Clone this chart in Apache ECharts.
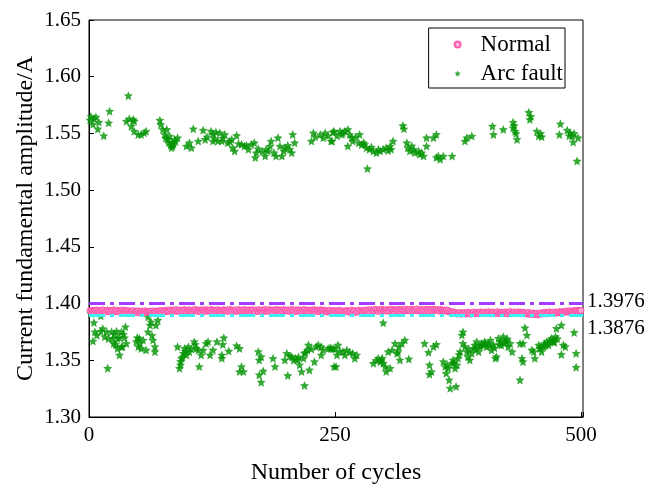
<!DOCTYPE html>
<html><head><meta charset="utf-8">
<script src="https://cdn.jsdelivr.net/npm/echarts@6/dist/echarts.min.js"></script>
<style>html,body{margin:0;padding:0;background:#fff}#c{width:661px;height:490px}</style>
</head><body><div id="c"></div>
<script>
const xTicks = [0, 250, 500];
const seriesNames = ['Normal', 'Arc fault'];
const thresholdValues = [1.3976, 1.3876];
const thresholdLabels = ['1.3976', '1.3876'];

// Normal: one value per cycle, cycles 1..500
const normalValues = [
1.3938,1.3929,1.3942,1.3933,1.3926,1.3940,1.3935,1.3944,1.3931,1.3937,1.3928,1.3941,1.3934,1.3946,1.3930,1.3936,1.3925,1.3939,1.3943,1.3932,
1.3936,1.3927,1.3940,1.3934,1.3945,1.3929,1.3938,1.3931,1.3942,1.3926,1.3935,1.3939,1.3930,1.3944,1.3933,1.3928,1.3941,1.3936,1.3924,1.3937,
1.3931,1.3922,1.3935,1.3927,1.3938,1.3920,1.3929,1.3933,1.3924,1.3936,1.3918,1.3930,1.3926,1.3934,1.3921,1.3928,1.3937,1.3923,1.3931,1.3925,
1.3929,1.3934,1.3920,1.3927,1.3936,1.3923,1.3931,1.3918,1.3933,1.3926,1.3938,1.3929,1.3935,1.3924,1.3940,1.3931,1.3927,1.3942,1.3934,1.3930,
1.3939,1.3932,1.3945,1.3936,1.3929,1.3943,1.3938,1.3947,1.3931,1.3940,1.3934,1.3944,1.3928,1.3937,1.3942,1.3933,1.3948,1.3936,1.3930,1.3941,
1.3935,1.3946,1.3932,1.3939,1.3927,1.3943,1.3937,1.3949,1.3934,1.3940,1.3929,1.3944,1.3938,1.3931,1.3945,1.3936,1.3942,1.3930,1.3947,1.3939,
1.3933,1.3941,1.3936,1.3948,1.3930,1.3944,1.3938,1.3927,1.3942,1.3935,1.3946,1.3932,1.3940,1.3937,1.3929,1.3945,1.3934,1.3943,1.3938,1.3931,
1.3944,1.3936,1.3949,1.3933,1.3940,1.3928,1.3942,1.3937,1.3945,1.3931,1.3939,1.3947,1.3934,1.3941,1.3930,1.3943,1.3936,1.3948,1.3932,1.3940,
1.3937,1.3945,1.3929,1.3942,1.3935,1.3947,1.3933,1.3939,1.3926,1.3944,1.3938,1.3931,1.3946,1.3936,1.3941,1.3928,1.3943,1.3935,1.3949,1.3932,
1.3940,1.3934,1.3946,1.3930,1.3943,1.3937,1.3928,1.3945,1.3939,1.3933,1.3948,1.3936,1.3942,1.3929,1.3944,1.3938,1.3931,1.3947,1.3935,1.3941,
1.3936,1.3944,1.3930,1.3942,1.3937,1.3949,1.3933,1.3940,1.3927,1.3945,1.3938,1.3932,1.3946,1.3935,1.3941,1.3929,1.3943,1.3936,1.3948,1.3934,
1.3939,1.3931,1.3944,1.3937,1.3928,1.3942,1.3935,1.3947,1.3933,1.3940,1.3926,1.3943,1.3938,1.3930,1.3945,1.3936,1.3941,1.3929,1.3944,1.3934,
1.3932,1.3925,1.3938,1.3929,1.3941,1.3923,1.3934,1.3927,1.3939,1.3931,1.3920,1.3936,1.3928,1.3942,1.3926,1.3933,1.3937,1.3922,1.3930,1.3935,
1.3927,1.3940,1.3931,1.3924,1.3936,1.3929,1.3943,1.3926,1.3933,1.3938,1.3921,1.3935,1.3930,1.3942,1.3925,1.3937,1.3932,1.3928,1.3941,1.3934,
1.3936,1.3943,1.3931,1.3945,1.3938,1.3929,1.3947,1.3935,1.3941,1.3933,1.3949,1.3937,1.3944,1.3930,1.3946,1.3939,1.3934,1.3950,1.3936,1.3942,
1.3938,1.3945,1.3932,1.3947,1.3940,1.3934,1.3951,1.3937,1.3943,1.3930,1.3946,1.3939,1.3944,1.3935,1.3949,1.3941,1.3933,1.3948,1.3938,1.3945,
1.3940,1.3952,1.3936,1.3944,1.3939,1.3947,1.3933,1.3950,1.3942,1.3937,1.3946,1.3940,1.3953,1.3935,1.3944,1.3948,1.3938,1.3945,1.3941,1.3936,
1.3947,1.3939,1.3951,1.3943,1.3936,1.3949,1.3941,1.3946,1.3934,1.3950,1.3942,1.3938,1.3947,1.3940,1.3944,1.3932,1.3948,1.3937,1.3943,1.3939,
1.3941,1.3935,1.3944,1.3930,1.3938,1.3926,1.3933,1.3921,1.3929,1.3917,1.3924,1.3912,1.3920,1.3908,1.3916,1.3911,1.3922,1.3906,1.3914,1.3919,
1.3910,1.3921,1.3907,1.3916,1.3924,1.3912,1.3918,1.3905,1.3920,1.3914,1.3926,1.3909,1.3917,1.3922,1.3911,1.3919,1.3913,1.3927,1.3915,1.3920,
1.3916,1.3925,1.3910,1.3922,1.3914,1.3928,1.3919,1.3908,1.3923,1.3917,1.3926,1.3912,1.3920,1.3915,1.3929,1.3911,1.3921,1.3918,1.3924,1.3913,
1.3922,1.3914,1.3927,1.3916,1.3909,1.3924,1.3919,1.3930,1.3912,1.3921,1.3917,1.3926,1.3910,1.3923,1.3915,1.3928,1.3918,1.3911,1.3925,1.3920,
1.3914,1.3923,1.3910,1.3919,1.3907,1.3916,1.3921,1.3904,1.3913,1.3909,1.3918,1.3902,1.3911,1.3906,1.3915,1.3899,1.3910,1.3917,1.3905,1.3914,
1.3919,1.3911,1.3924,1.3915,1.3908,1.3922,1.3916,1.3927,1.3912,1.3920,1.3918,1.3925,1.3913,1.3921,1.3926,1.3917,1.3923,1.3929,1.3919,1.3924,
1.3927,1.3921,1.3932,1.3925,1.3930,1.3935,1.3923,1.3929,1.3937,1.3926,1.3933,1.3928,1.3939,1.3931,1.3936,1.3941,1.3930,1.3938,1.3934,1.3940
];

// Arc fault: [cycle, amplitude], upper cluster
const arcFaultHigh = [
[1,1.562],[2,1.565],[4,1.558],[5,1.563],[7,1.5645],[10,1.560],[9,1.554],[15,1.548],[21,1.5696],[20,1.5594],
[40,1.5833],[38,1.5608],[41,1.5629],[45,1.5623],[46,1.5608],[43,1.5564],[46,1.5520],[50,1.5491],[53,1.5491],[56,1.5506],[58,1.5520],
[72,1.5617],[73,1.5579],[75,1.5535],[77,1.5491],[79,1.5535],[82,1.5477],[80,1.5447],[84,1.5418],[85,1.5389],[87,1.5447],[90,1.5462],[84,1.5374],
[78,1.5460],[81,1.5420],[83,1.5395],[86,1.5410],[88,1.5430],
[99,1.5389],[102,1.5418],[104,1.5374],[106,1.5541],[111,1.5433],[116,1.5529],[118,1.5447],[124,1.5520],[126,1.5491],[129,1.5512],[133,1.5506],
[131,1.5433],[126,1.5433],[135,1.5433],[138,1.5491],[141,1.5418],[145,1.5447],[146,1.5374],[150,1.5482],[148,1.5345],[155,1.5404],[158,1.5389],
[162,1.5360],[165,1.5404],[168,1.5418],[170,1.5330],[169,1.5287],[179,1.5301],[180,1.5360],[184,1.5389],[185,1.5433],[192,1.5462],[194,1.5389],
[196,1.5301],[190,1.5301],[199,1.5374],[204,1.5360],[206,1.5330],[207,1.5491],[209,1.5418],[228,1.5506],[226,1.5433],[240,1.5506],[238,1.5462],
[246,1.5433],[248,1.5512],
[120,1.5470],[128,1.5455],[136,1.5460],[143,1.5430],[152,1.5410],[160,1.5395],[172,1.5365],[176,1.5340],[182,1.5345],[188,1.5330],[198,1.5345],
[202,1.5395],[230,1.5470],[235,1.5490],[243,1.5480],
[247,1.5433],[249,1.5520],[255,1.5520],[257,1.5491],[258,1.5506],[263,1.5535],[265,1.5491],[267,1.5462],[268,1.5433],[263,1.5389],[275,1.5491],
[274,1.5418],[279,1.5418],[280,1.5404],[282,1.5374],[285,1.5360],[289,1.5345],[292,1.5330],[296,1.5345],[299,1.5360],[302,1.5374],[306,1.5389],
[307,1.5360],[309,1.5433],[319,1.5570],[320,1.5541],[323,1.5418],[324,1.5374],[326,1.5345],[330,1.5360],[331,1.5330],[335,1.5345],[336,1.5316],
[340,1.5301],[343,1.5389],[343,1.5462],[350,1.5462],[353,1.5491],[353,1.5287],[357,1.5272],[360,1.5301],[369,1.5301],[382,1.5433],[384,1.5462],
[389,1.5477],[410,1.5564],[411,1.5491],[421,1.5535],[431,1.5599],[431,1.5550],[433,1.5520],[435,1.5447],[447,1.5687],[448,1.5623],[455,1.5520],
[457,1.5477],[460,1.5471],[479,1.5585],[478,1.5491],[486,1.5529],[489,1.5506],[491,1.5477],[492,1.5424],[497,1.5462],[496,1.5257],[283,1.5190],
[252,1.5480],[260,1.5520],[271,1.5470],[277,1.5400],[287,1.5380],[294,1.5360],[304,1.5350],[328,1.5390],[338,1.5330],[355,1.5300],[434,1.5500],
[432,1.5570],[449,1.5650],[459,1.5500],[488,1.5480],[493,1.5500]
];

// Arc fault: lower cluster
const arcFaultLow = [
[2,1.3912],[5,1.3833],[6,1.3751],[4,1.3670],[12,1.3892],[12,1.3757],[16,1.3708],[18,1.3751],[19,1.3430],[23,1.3751],[24,1.3693],[25,1.3649],
[28,1.3757],[29,1.3693],[29,1.3605],[31,1.3547],[33,1.3751],[34,1.3620],[36,1.3699],[37,1.3795],[38,1.3649],[48,1.3664],[50,1.3620],[51,1.3693],
[55,1.3678],[53,1.3605],[58,1.3591],[60,1.3883],[62,1.3810],[60,1.3751],[63,1.3839],[65,1.3678],[67,1.3620],[67,1.3576],[68,1.3810],[70,1.3854],
[8,1.3720],[14,1.3780],[20,1.3690],[26,1.3730],[31,1.3700],[27,1.3640],[33,1.3620],[35,1.3730],[52,1.3650],[49,1.3700],[64,1.3720],
[90,1.3620],[92,1.3430],[94,1.3518],[96,1.3561],[97,1.3605],[99,1.3547],[101,1.3620],[102,1.3576],[107,1.3664],[109,1.3605],[111,1.3591],
[112,1.3445],[114,1.3547],[119,1.3649],[121,1.3664],[123,1.3547],[126,1.3591],[130,1.3664],[135,1.3547],[135,1.3518],[137,1.3699],[136,1.3640],
[142,1.3582],[150,1.3629],[153,1.3605],[155,1.3445],[153,1.3401],[157,1.3401],
[93,1.3490],[95,1.3530],[98,1.3580],[104,1.3600],[108,1.3640],[116,1.3590],[93,1.3460],
[172,1.3576],[173,1.3503],[175,1.3532],[177,1.3406],[173,1.3371],[175,1.3307],[187,1.3518],[189,1.3445],[201,1.3561],[199,1.3503],[202,1.3366],
[206,1.3532],[210,1.3518],[212,1.3503],[214,1.3459],[216,1.3401],[218,1.3518],[219,1.3561],[222,1.3591],[223,1.3635],[224,1.3415],[219,1.3278],
[229,1.3488],[233,1.3635],[236,1.3620],[236,1.3547],[243,1.3605],[248,1.3605],[249,1.3445],
[204,1.3540],[208,1.3500],[213,1.3530],[220,1.3570],[226,1.3600],[231,1.3620],[238,1.3590],[245,1.3610],
[246,1.3605],[250,1.3600],[253,1.3635],[252,1.3547],[251,1.3445],[258,1.3576],[260,1.3547],[262,1.3591],[268,1.3561],[270,1.3518],[272,1.3547],
[289,1.3474],[294,1.3518],[296,1.3488],[297,1.3503],[299,1.3830],[299,1.3474],[301,1.3445],[302,1.3401],[304,1.3576],[306,1.3430],[311,1.3649],
[313,1.3561],[314,1.3576],[316,1.3503],[318,1.3649],[321,1.3678],[325,1.3512],[341,1.3649],[345,1.3570],[346,1.3459],[346,1.3377],[348,1.3401],
[350,1.3620],[353,1.3640],[360,1.3488],[362,1.3445],[363,1.3386],[365,1.3430],[366,1.3327],[367,1.3254],[369,1.3474],[370,1.3503],[372,1.3430],
[374,1.3459],[373,1.3269],[375,1.3518],[377,1.3576],[379,1.3722],[380,1.3751],[380,1.3649],[384,1.3576],[385,1.3532],[387,1.3503],[389,1.3561],
[391,1.3605],[392,1.3635],[394,1.3664],[396,1.3576],[397,1.3620],[399,1.3649],[401,1.3635],[402,1.3664],[404,1.3620],[406,1.3649],[408,1.3678],
[409,1.3591],[411,1.3635],[413,1.3518],[414,1.3532],[416,1.3693],[418,1.3664],[419,1.3635],[421,1.3708],[423,1.3664],[424,1.3678],[426,1.3620],
[428,1.3649],[430,1.3576],[438,1.3649],[440,1.3518],[441,1.3488],[443,1.3787],[445,1.3722],[441,1.3649],[438,1.3327],[450,1.3591],[452,1.3576],
[453,1.3518],[457,1.3635],[458,1.3605],[460,1.3576],[462,1.3620],[463,1.3649],[465,1.3664],[467,1.3635],[469,1.3678],[470,1.3693],[472,1.3664],
[474,1.3708],[475,1.3781],[480,1.3810],[480,1.3552],[482,1.3635],[484,1.3620],[493,1.3746],[495,1.3561],[495,1.3439],
[255,1.3580],[265,1.3570],[292,1.3500],[298,1.3520],[308,1.3590],[315,1.3620],[364,1.3460],[371,1.3480],[376,1.3550],[382,1.3620],[386,1.3600],
[393,1.3600],[398,1.3630],[403,1.3650],[407,1.3630],[412,1.3610],[417,1.3640],[422,1.3650],[425,1.3690],[459,1.3620],[464,1.3630],[466,1.3650],
[471,1.3670],[473,1.3660],[476,1.3690]
];

const FONT = '"Liberation Serif", "Times New Roman", serif';
const STAR = 'path://M50,0L63.5,31.5L97.6,34.5L71.8,57L79.4,90.5L50,73L20.6,90.5L28.2,57L2.4,34.5L36.5,31.5Z';
const thresholdColors = ['#a23cff', '#3ff0f0'];

const chart = echarts.init(document.getElementById('c'), null, {renderer: 'canvas'});
chart.setOption({
  animation: false,
  backgroundColor: '#fff',
  grid: {left: 89, right: 78, top: 20, bottom: 71, show: true, borderColor: '#000', borderWidth: 1},
  xAxis: {
    type: 'value', min: 0, max: 502, interval: 250,
    name: 'Number of cycles', nameLocation: 'middle', nameGap: 44, nameMoveOverlap: false,
    nameTextStyle: {fontFamily: FONT, fontSize: 24, color: '#000'},
    axisLine: {lineStyle: {color: '#000', width: 1}},
    axisTick: {inside: true, length: 5, lineStyle: {color: '#000'}},
    axisLabel: {fontFamily: FONT, fontSize: 21, color: '#000', margin: 8,
      formatter: v => xTicks.includes(v) ? String(v) : ''},
    splitLine: {show: false}
  },
  yAxis: {
    type: 'value', min: 1.30, max: 1.65, interval: 0.05,
    name: 'Current fundamental amplitude/A', nameLocation: 'middle', nameGap: 51, nameMoveOverlap: false,
    nameTextStyle: {fontFamily: FONT, fontSize: 24, color: '#000'},
    axisLine: {show: true, lineStyle: {color: '#000', width: 1}},
    axisTick: {show: true, inside: true, length: 5, lineStyle: {color: '#000'}},
    axisLabel: {fontFamily: FONT, fontSize: 21, color: '#000', margin: 8, formatter: v => v.toFixed(2)},
    splitLine: {show: false}
  },
  legend: {
    orient: 'vertical', align: 'left', right: 96, top: 28,
    itemWidth: 36, itemHeight: 6, itemGap: 6,
    padding: [5, 2, 3, 25],
    borderColor: '#000', borderWidth: 1,
    textStyle: {fontFamily: FONT, fontSize: 23, color: '#000'},
    data: seriesNames
  },
  series: [
    {
      name: seriesNames[0], type: 'scatter', symbol: 'circle', symbolSize: 6, z: 3,
      itemStyle: {color: '#ffa8d4', borderColor: '#ff3f9f', borderWidth: 1},
      data: normalValues.map((v, i) => [i + 1, v]),
      markLine: {
        silent: true, symbol: 'none', animation: false,
        data: thresholdValues.map((v, i) => ({
          yAxis: v,
          lineStyle: {color: thresholdColors[i], width: 3, type: [16, 5, 4, 5]},
          label: {show: true, position: 'end', distance: 4, formatter: thresholdLabels[i],
            fontFamily: FONT, fontSize: 21, color: '#000',
            verticalAlign: i === 0 ? 'bottom' : 'top',
            offset: i === 0 ? [0, 8] : [0, 3]}
        }))
      }
    },
    {
      name: seriesNames[1], type: 'scatter', symbol: STAR, symbolSize: 9, z: 2,
      itemStyle: {color: '#039403'},
      data: arcFaultHigh.concat(arcFaultLow)
    }
  ]
});
</script>
</body></html>
